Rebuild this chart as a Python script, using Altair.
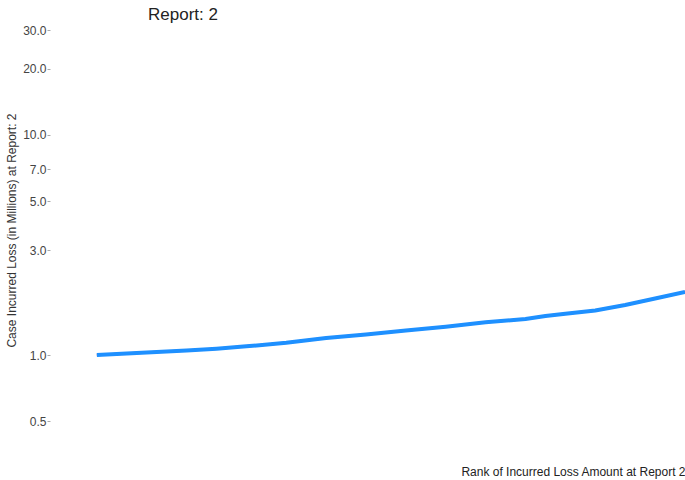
import altair as alt
import pandas as pd

# Rank of claim and case incurred loss (millions) at report 2
ranks = [1, 4, 7, 10, 13, 16, 20, 24, 28, 32, 36, 40, 44, 46, 48, 51, 54, 57, 60]
incurred = [1.00, 1.017, 1.032, 1.048, 1.069, 1.095, 1.136, 1.195, 1.240, 1.292,
            1.344, 1.408, 1.458, 1.504, 1.539, 1.594, 1.687, 1.807, 1.935]
ultimate = incurred  # red series lies underneath the blue one

y_ticks = [0.5, 1.0, 3.0, 5.0, 7.0, 10.0, 20.0, 30.0]

df = pd.DataFrame({"rank": ranks, "incurred": incurred, "ultimate": ultimate})

FONT = "Liberation Sans"

x_enc = alt.X("rank:Q",
              scale=alt.Scale(domain=[-3.7, 60], nice=False, zero=False),
              axis=alt.Axis(title="Rank of Incurred Loss Amount at Report 2",
                            labels=False, ticks=False, domain=False, grid=False,
                            titleAnchor="end", titleFontWeight="normal",
                            titleFontSize=12, titleColor="#222", titleFont=FONT,
                            titlePadding=21))

y_axis = alt.Axis(title="Case Incurred Loss (in Millions) at Report: 2",
                  values=y_ticks, format=".1f", domain=False, grid=False,
                  tickSize=3, tickColor="#aaaaaa", labelPadding=1,
                  labelFontSize=12, labelColor="#444", labelFont=FONT,
                  titleFontWeight="normal", titleFontSize=12, titleColor="#333",
                  titleFont=FONT, titlePadding=4)

y_scale = alt.Scale(type="log", domain=[0.39, 35.1], nice=False)

red = alt.Chart(df).mark_line(color="#e8383d", strokeWidth=2.5).encode(
    x=x_enc,
    y=alt.Y("ultimate:Q", scale=y_scale, axis=y_axis),
)
blue = alt.Chart(df).mark_line(color="#1e90ff", strokeWidth=4).encode(
    x=alt.X("rank:Q"),
    y=alt.Y("incurred:Q"),
)

chart = alt.layer(red, blue).properties(
    width=635, height=430,
    background="white",
    title=alt.TitleParams("Report: 2", anchor="start", frame="group", dx=98,
                          fontSize=17, fontWeight="normal", color="#222",
                          font=FONT, offset=-9),
    autosize=alt.AutoSizeParams(type="none"),
    padding={"left": 50, "top": 15, "right": 0, "bottom": 35},
).configure_view(strokeWidth=0, stroke="transparent")

chart.save("out.html", embed_options={"renderer": "svg", "actions": False})
